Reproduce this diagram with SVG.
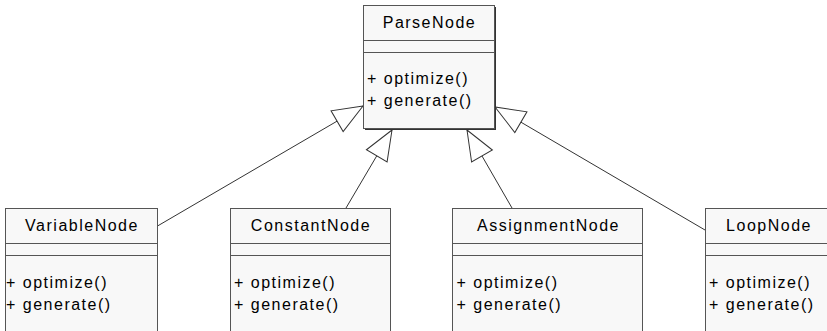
<svg xmlns="http://www.w3.org/2000/svg" width="827" height="331" viewBox="0 0 827 331">
<defs>
<style>
.box{fill:#f8f8f8;stroke:#555;stroke-width:1}
.sep{stroke:#555;stroke-width:1}
.shadow{fill:#333}
.t{font-family:"Liberation Sans",Arial,sans-serif;font-size:16px;letter-spacing:1.5px;fill:#000}
.c{text-anchor:middle}
.edge{stroke:#333;stroke-width:1;fill:none;marker-end:url(#tri)}
</style>
<marker id="tri" markerUnits="userSpaceOnUse" viewBox="-32 -14 34 28" refX="0" refY="0" markerWidth="34" markerHeight="28" orient="auto">
<path d="M0,0 L-30,-12 L-30,12 Z" fill="#fff" stroke="#333" stroke-width="1"/>
</marker>
</defs>
<rect width="827" height="331" fill="#fff"/>
<g id="connectors">
<line class="edge" x1="157.5" y1="226" x2="363" y2="106"/>
<line class="edge" x1="346" y1="208" x2="392" y2="130"/>
<line class="edge" x1="512" y1="208" x2="467" y2="130"/>
<line class="edge" x1="705" y1="230" x2="495" y2="107"/>
</g>
<g id="ParseNode">
<rect class="shadow" x="365" y="7" width="131" height="123"/>
<rect class="box" x="363.5" y="5.5" width="131" height="123"/>
<line class="sep" x1="363.5" y1="40.5" x2="494.5" y2="40.5"/>
<line class="sep" x1="363.5" y1="52.5" x2="494.5" y2="52.5"/>
<text class="t c" x="429.5" y="28">ParseNode</text>
<text class="t" x="367" y="84">+ optimize()</text>
<text class="t" x="367" y="106">+ generate()</text>
</g>
<g id="VariableNode">
<rect class="box" x="5.5" y="208.5" width="152" height="140"/>
<line class="sep" x1="5.5" y1="243.5" x2="157.5" y2="243.5"/>
<line class="sep" x1="5.5" y1="255.5" x2="157.5" y2="255.5"/>
<text class="t c" x="82" y="231">VariableNode</text>
<text class="t" x="6" y="288">+ optimize()</text>
<text class="t" x="6" y="310">+ generate()</text>
</g>
<g id="ConstantNode">
<rect class="box" x="230.5" y="208.5" width="160" height="140"/>
<line class="sep" x1="230.5" y1="243.5" x2="390.5" y2="243.5"/>
<line class="sep" x1="230.5" y1="255.5" x2="390.5" y2="255.5"/>
<text class="t c" x="311" y="231">ConstantNode</text>
<text class="t" x="234" y="288">+ optimize()</text>
<text class="t" x="234" y="310">+ generate()</text>
</g>
<g id="AssignmentNode">
<rect class="box" x="452.5" y="208.5" width="190" height="140"/>
<line class="sep" x1="452.5" y1="243.5" x2="642.5" y2="243.5"/>
<line class="sep" x1="452.5" y1="255.5" x2="642.5" y2="255.5"/>
<text class="t c" x="548.5" y="231">AssignmentNode</text>
<text class="t" x="456.5" y="288">+ optimize()</text>
<text class="t" x="456.5" y="310">+ generate()</text>
</g>
<g id="LoopNode">
<rect class="box" x="705.5" y="208.5" width="126" height="140"/>
<line class="sep" x1="705.5" y1="243.5" x2="831.5" y2="243.5"/>
<line class="sep" x1="705.5" y1="255.5" x2="831.5" y2="255.5"/>
<text class="t c" x="769" y="231">LoopNode</text>
<text class="t" x="709" y="288">+ optimize()</text>
<text class="t" x="709" y="310">+ generate()</text>
</g>
</svg>
